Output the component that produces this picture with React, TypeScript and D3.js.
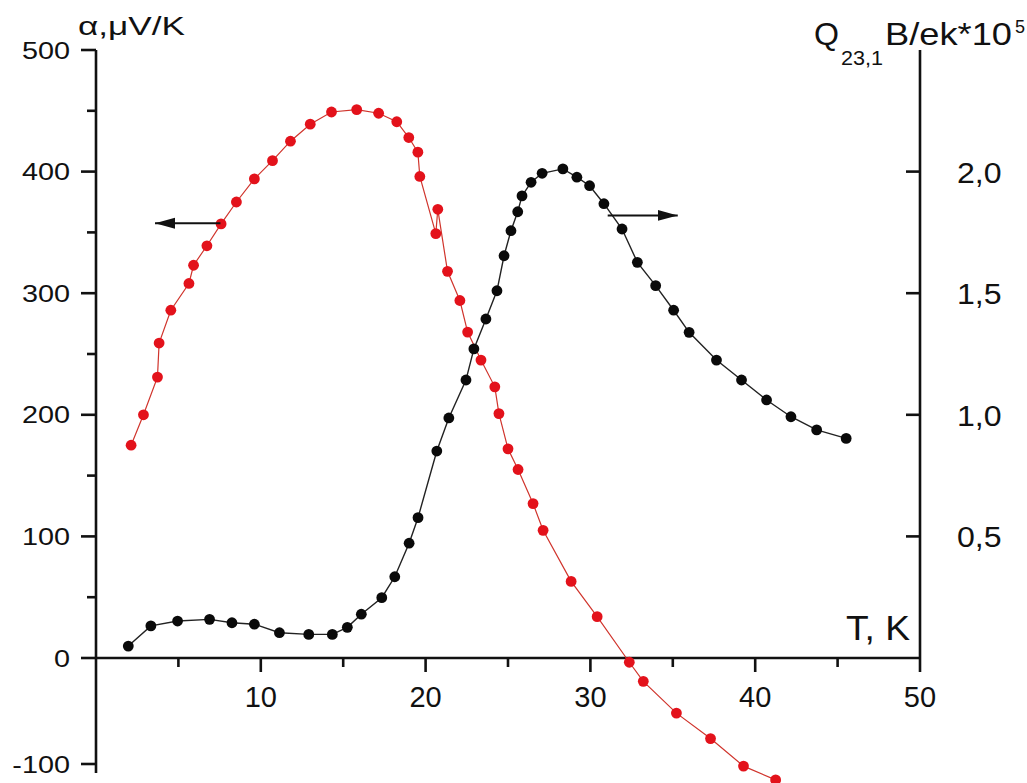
import * as d3 from "d3";

// alpha (left axis), red
const tAlpha = [2.13, 2.88, 3.73, 3.83, 4.54, 5.64, 5.92, 6.73, 7.59, 8.52, 9.61, 10.71, 11.8, 13.0, 14.29, 15.82, 17.15, 18.25, 18.98, 19.53, 19.65, 20.62, 20.74, 21.33, 22.08, 22.55, 23.36, 24.2, 24.45, 25.0, 25.61, 26.52, 27.13, 28.83, 30.41, 32.36, 33.21, 35.22, 37.29, 39.29, 41.24];
const alpha = [175, 200, 231, 259, 286, 308, 323, 339, 357, 375, 394, 409, 425, 439, 449, 451, 448, 441, 428, 416, 396, 349, 369, 318, 294, 268, 245, 223, 201, 172, 155, 127, 105, 63, 34, -4, -22, -52, -76, -102, -115];

// Q (right axis), black
const tQ = [1.96, 3.33, 4.95, 6.89, 8.25, 9.61, 11.13, 12.91, 14.34, 15.25, 16.1, 17.34, 18.13, 19.0, 19.54, 20.68, 21.41, 22.45, 22.93, 23.66, 24.33, 24.76, 25.18, 25.59, 25.85, 26.4, 27.07, 28.33, 29.18, 29.95, 30.82, 31.92, 32.85, 33.96, 35.05, 35.99, 37.65, 39.17, 40.69, 42.17, 43.73, 45.52];
const qVals = [0.049, 0.132, 0.152, 0.159, 0.145, 0.139, 0.104, 0.097, 0.097, 0.126, 0.18, 0.248, 0.334, 0.472, 0.577, 0.851, 0.987, 1.143, 1.271, 1.394, 1.51, 1.654, 1.757, 1.835, 1.9, 1.956, 1.993, 2.011, 1.977, 1.942, 1.868, 1.764, 1.627, 1.531, 1.43, 1.339, 1.225, 1.143, 1.061, 0.992, 0.938, 0.903];

const leftTicks = [-100, 0, 100, 200, 300, 400, 500];
const leftMinor = [50, 150, 250, 350, 450];
const xTicks = [10, 20, 30, 40, 50];
const xMinor = [5, 15, 25, 35, 45];
const rightTicks = [0.5, 1.0, 1.5, 2.0];
const rightLabels = ["0,5", "1,0", "1,5", "2,0"];

// arrows [tFrom, tTo, alphaLevel]
const arrowLeft = [7.55, 3.58, 357.5];
const arrowRight = [31.05, 35.3, 364];

const W = 1027;
const H = 783;
const FONT = "'Liberation Sans', Arial, Helvetica, sans-serif";

export default function App() {
  const x = d3.scaleLinear().domain([0, 50]).range([96, 920]);
  const yL = d3.scaleLinear().domain([-100, 0, 500]).range([764, 658, 50]);
  const yR = d3.scaleLinear().domain([0, 2.5]).range([658, 50]);

  const redPts = tAlpha.map((t, i) => [x(t), yL(alpha[i])] as [number, number]);
  const blackPts = tQ.map((t, i) => [x(t), yR(qVals[i])] as [number, number]);
  const line = d3.line();

  const ax = x(0);
  const rx = x(50);
  const y0 = yL(0);

  return (
    <svg width={W} height={H} style={{ position: "absolute", left: 0, top: 0, display: "block", background: "#fff" }} fontFamily={FONT}>
      <defs>
        <marker id="head" markerUnits="userSpaceOnUse" markerWidth="22" markerHeight="12" refX="20" refY="6" orient="auto">
          <path d="M0,0.5 L20,6 L0,11.5 Z" fill="#111" />
        </marker>
      </defs>

      {/* axes */}
      <g stroke="#111" strokeWidth={2.6} fill="none">
        <line x1={ax} x2={ax} y1={yL(500)} y2={yL(-100) + 9} />
        <line x1={ax} x2={rx} y1={y0} y2={y0} />
        <line x1={rx} x2={rx} y1={yR(2.5)} y2={yR(0)} />
        {leftTicks.map((v) => (
          <line key={"lt" + v} x1={ax - 15} x2={ax} y1={yL(v)} y2={yL(v)} />
        ))}
        {leftMinor.map((v) => (
          <line key={"lm" + v} x1={ax - 9} x2={ax} y1={yL(v)} y2={yL(v)} />
        ))}
        {xTicks.map((v) => (
          <line key={"xt" + v} x1={x(v)} x2={x(v)} y1={y0} y2={y0 + 14} />
        ))}
        {xMinor.map((v) => (
          <line key={"xm" + v} x1={x(v)} x2={x(v)} y1={y0} y2={y0 + 9} />
        ))}
        {rightTicks.map((v) => (
          <line key={"rt" + v} x1={rx - 14} x2={rx} y1={yR(v)} y2={yR(v)} />
        ))}
      </g>

      {/* tick labels */}
      <g fill="#111" fontSize={24} textAnchor="end">
        {leftTicks.map((v) => (
          <text key={"ll" + v} transform={`translate(${ax - 26},${yL(v) + 8.5}) scale(1.2,1)`}>{v}</text>
        ))}
      </g>
      <g fill="#111" fontSize={29} textAnchor="middle">
        {xTicks.map((v) => (
          <text key={"xl" + v} x={x(v)} y={y0 + 49}>{v}</text>
        ))}
      </g>
      <g fill="#111" fontSize={30} textAnchor="start">
        {rightTicks.map((v, i) => (
          <text key={"rl" + v} transform={`translate(${rx + 37},${yR(v) + 11}) scale(1.07,1)`}>{rightLabels[i]}</text>
        ))}
      </g>

      {/* axis titles */}
      <text x={78} y={35} fontSize={26} textLength={107} lengthAdjust="spacingAndGlyphs" fill="#111">α,μV/K</text>
      <text x={846} y={640} fontSize={35} textLength={64} lengthAdjust="spacingAndGlyphs" fill="#111">T, K</text>
      <text x={814} y={45} fontSize={32} textLength={25} lengthAdjust="spacingAndGlyphs" fill="#111">Q</text>
      <text x={841} y={65} fontSize={21} textLength={42} lengthAdjust="spacingAndGlyphs" fill="#111">23,1</text>
      <text x={885} y={45} fontSize={32} textLength={127} lengthAdjust="spacingAndGlyphs" fill="#111">B/ek*10</text>
      <text x={1015} y={33} fontSize={18} fill="#111">5</text>

      {/* curves */}
      <path d={line(redPts) ?? ""} fill="none" stroke="#d0342c" strokeWidth={1.2} />
      <path d={line(blackPts) ?? ""} fill="none" stroke="#222" strokeWidth={1.4} />
      {redPts.map((p, i) => (
        <circle key={"r" + i} cx={p[0]} cy={p[1]} r={5.4} fill="#e3121b" />
      ))}
      {blackPts.map((p, i) => (
        <circle key={"b" + i} cx={p[0]} cy={p[1]} r={5.4} fill="#0a0a0a" />
      ))}

      {/* arrows */}
      <line x1={x(arrowLeft[0])} x2={x(arrowLeft[1])} y1={yL(arrowLeft[2])} y2={yL(arrowLeft[2])} stroke="#111" strokeWidth={2} markerEnd="url(#head)" />
      <line x1={x(arrowRight[0])} x2={x(arrowRight[1])} y1={yL(arrowRight[2])} y2={yL(arrowRight[2])} stroke="#111" strokeWidth={2} markerEnd="url(#head)" />
    </svg>
  );
}
